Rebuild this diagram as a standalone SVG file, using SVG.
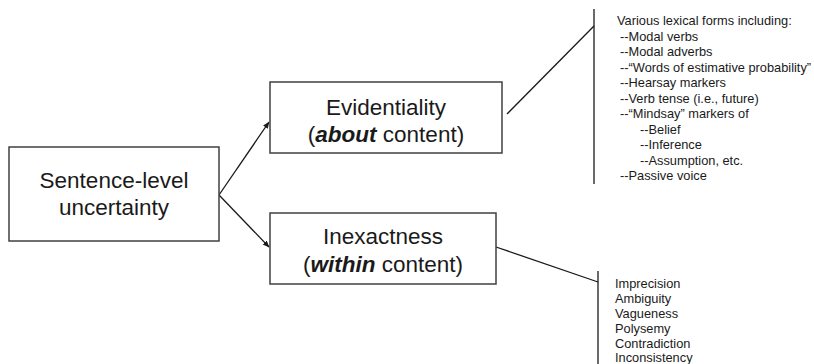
<svg xmlns="http://www.w3.org/2000/svg" width="814" height="364" viewBox="0 0 814 364">
  <style>
    .box { fill: #ffffff; stroke: #404040; stroke-width: 1.5; }
    .big { font-family: "Liberation Sans", Arial, sans-serif; font-size: 22.5px; fill: #1a1a1a; text-anchor: middle; }
    .small { font-family: "Liberation Sans", Arial, sans-serif; font-size: 12.8px; fill: #1a1a1a; }
    .edge { stroke: #1a1a1a; stroke-width: 1.3; fill: none; }
    .brace { stroke: #1a1a1a; stroke-width: 1.3; fill: none; }
  </style>
  <defs>
    <marker id="arrow" viewBox="0 0 10 10" refX="9" refY="5" markerWidth="7" markerHeight="7" orient="auto" markerUnits="userSpaceOnUse">
      <path d="M0,1 L10,5 L0,9 z" fill="#1a1a1a"/>
    </marker>
  </defs>
  <rect width="814" height="364" fill="#ffffff"/>

  <!-- connectors -->
  <g id="connectors">
    <line class="edge" x1="219" y1="195" x2="269" y2="122" marker-end="url(#arrow)"/>
    <line class="edge" x1="219" y1="195" x2="269" y2="247" marker-end="url(#arrow)"/>
    <line class="brace" x1="507" y1="114" x2="594" y2="26"/>
    <line class="brace" x1="594" y1="9" x2="594" y2="184"/>
    <line class="brace" x1="496" y1="247" x2="598" y2="282"/>
    <line class="brace" x1="598" y1="271" x2="598" y2="364"/>
  </g>

  <!-- root node -->
  <g id="sentence-level-uncertainty">
    <rect class="box" x="9" y="147" width="210" height="94"/>
    <text class="big" x="114" y="188">Sentence-level</text>
    <text class="big" x="114" y="215">uncertainty</text>
  </g>

  <!-- evidentiality node -->
  <g id="evidentiality">
    <rect class="box" x="270" y="82" width="232" height="71"/>
    <text class="big" x="386" y="115">Evidentiality</text>
    <text class="big" x="386" y="142">(<tspan font-weight="bold" font-style="italic">about</tspan> content)</text>
  </g>

  <!-- inexactness node -->
  <g id="inexactness">
    <rect class="box" x="270" y="213" width="226" height="71"/>
    <text class="big" x="383" y="244">Inexactness</text>
    <text class="big" x="383" y="272">(<tspan font-weight="bold" font-style="italic">within</tspan> content)</text>
  </g>

  <!-- lexical forms list -->
  <g id="lexical-forms">
    <text class="small" x="617" y="25">Various lexical forms including:</text>
    <text class="small" x="620" y="40.5">--Modal verbs</text>
    <text class="small" x="620" y="56">--Modal adverbs</text>
    <text class="small" x="620" y="71.5">--“Words of estimative probability”</text>
    <text class="small" x="620" y="87">--Hearsay markers</text>
    <text class="small" x="620" y="102.5">--Verb tense (i.e., future)</text>
    <text class="small" x="620" y="118">--“Mindsay” markers of</text>
    <text class="small" x="640" y="133.5">--Belief</text>
    <text class="small" x="640" y="149">--Inference</text>
    <text class="small" x="640" y="164.5">--Assumption, etc.</text>
    <text class="small" x="620" y="180">--Passive voice</text>
  </g>

  <!-- inexactness kinds list -->
  <g id="inexactness-kinds">
    <text class="small" x="615" y="288">Imprecision</text>
    <text class="small" x="615" y="303">Ambiguity</text>
    <text class="small" x="615" y="318">Vagueness</text>
    <text class="small" x="615" y="333">Polysemy</text>
    <text class="small" x="615" y="348">Contradiction</text>
    <text class="small" x="615" y="362">Inconsistency</text>
  </g>
</svg>
